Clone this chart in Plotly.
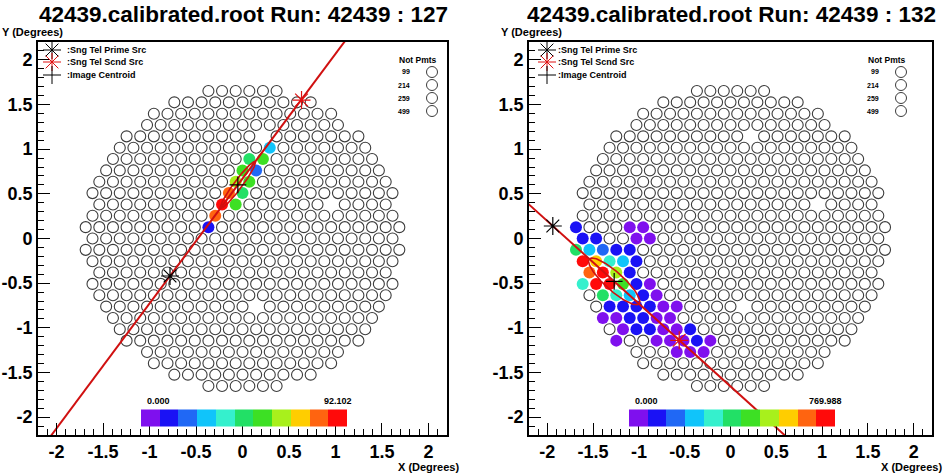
import numpy as np
import plotly.graph_objects as go

W, H = 943, 475
FONT = "Liberation Sans, Arial, Helvetica, sans-serif"

# ---------------- camera geometry ----------------
PIXEL_PITCH = 0.1467      # deg between neighbouring PMTs
CAMERA_RADIUS = 1.71      # deg, edge of the PMT cluster

# PMTs without a working channel ("Not Pmts")
not_pmt_ids = ["99", "214", "259", "499"]
dead_row = [9, 3, -6]
dead_col = [1, 6, 1]

# 11-step colour palette of the charge scale
palette = ["#7f10ee", "#1a12f5", "#2068f5", "#10c4fa", "#35f0cd",
           "#22e066", "#3de024", "#a8f01c", "#ffcd00", "#ff6410", "#ff0a0a"]

# ---------------- event 127 ----------------
ev127_title = "42439.calibrated.root Run: 42439 : 127"
ev127_row = [8, 7, 7, 6, 6, 5, 5, 4, 4, 3, 3, 2, 1]
ev127_col = [2, 0, 1, 0, 1, -1, 0, -1, 0, -2, -1, -2, -3]
ev127_pe = [29, 46, 55, 54, 21, 63, 52, 80, 47, 92.102, 54, 78, 12]
ev127_max = 92.102
ev127_centroid = [-0.05, 0.60]
ev127_prime_src = [-0.78, -0.42]
ev127_scnd_src = [0.635, 1.55]
ev127_length = 0.32
ev127_width = 0.045

# ---------------- event 132 ----------------
ev132_title = "42439.calibrated.root Run: 42439 : 132"
ev132_row = [1, 1, 1,
             0, 0, 0, 0,
             -1, -1, -1, -1, -1,
             -2, -2, -2, -2, -2,
             -3, -3, -3, -3,
             -4, -4, -4, -4, -4, -4,
             -5, -5, -5, -5, -5,
             -6, -6, -6, -6, -6, -6,
             -7, -7, -7, -7, -7, -7,
             -8, -8, -8, -8, -8, -8,
             -9, -9, -9, -9, -9, -9,
             -10, -10, -10]
ev132_col = [-12, -8, -7,
             -11, -10, -7, -6,
             -12, -11, -10, -9, -8,
             -11, -10, -9, -8, -7,
             -11, -10, -9, -8,
             -11, -10, -9, -8, -7, -6,
             -10, -9, -8, -7, -6,
             -9, -8, -7, -6, -5, -4,
             -10, -9, -8, -7, -6, -5,
             -8, -7, -6, -5, -4, -3,
             -9, -6, -5, -4, -3, -2,
             -4, -3, -2]
ev132_pe = [100, 30, 40,
            110, 80, 45, 30,
            390, 250, 180, 110, 120,
            769.988, 600, 320, 260, 115,
            680, 740, 530, 125,
            330, 750, 745, 460, 100, 50,
            380, 330, 240, 110, 40,
            100, 120, 130, 95, 45, 30,
            40, 50, 110, 120, 55, 35,
            45, 105, 115, 60, 50, 100,
            40, 50, 60, 55, 110, 40,
            45, 60, 40]
ev132_max = 769.988
ev132_centroid = [-1.27, -0.48]
ev132_prime_src = [-1.94, 0.14]
ev132_scnd_src = [-0.56, -1.14]
ev132_length = 0.37
ev132_width = 0.10

x_tick_vals = [-2, -1.5, -1, -0.5, 0, 0.5, 1, 1.5, 2]
x_tick_text = ["-2", "-1.5", "-1", "-0.5", "0", "0.5", "1", "1.5", "2"]

# ---------------- helpers ----------------
DY = PIXEL_PITCH * np.sqrt(3) / 2


def pix_xy(r, c):
    return (c + 0.5 * (r % 2)) * PIXEL_PITCH, r * DY


def camera_pixels():
    out = []
    for r in range(-15, 16):
        for c in range(-15, 16):
            x, y = pix_xy(r, c)
            if np.hypot(x, y) <= CAMERA_RADIUS:
                out.append((r, c))
    return out


def discrete_scale(colors):
    n = len(colors)
    sc = []
    for k, col in enumerate(colors):
        sc.append([k / n, col])
        sc.append([(k + 1) / n, col])
    return sc


def px2paper_x(p):
    return p / W


def px2paper_y(p):
    return 1 - p / H


# panel frames in page pixels: (left, right, top, bottom)
frames = [(38, 447, 42, 435), (529, 932, 42, 435)]

events = [
    dict(title=ev127_title, rows=ev127_row, cols=ev127_col, pe=ev127_pe, vmax=ev127_max,
         cen=ev127_centroid, src1=ev127_prime_src, src2=ev127_scnd_src,
         length=ev127_length, width=ev127_width, max_label="92.102"),
    dict(title=ev132_title, rows=ev132_row, cols=ev132_col, pe=ev132_pe, vmax=ev132_max,
         cen=ev132_centroid, src1=ev132_prime_src, src2=ev132_scnd_src,
         length=ev132_length, width=ev132_width, max_label="769.988"),
]

fig = go.Figure()
all_pix = camera_pixels()
dead = set(zip(dead_row, dead_col))
annotations = []
shapes = []


def text(s, x, y, size, anchor="center", yanchor="middle"):
    return dict(text="<b>" + s + "</b>", xref="paper", yref="paper",
                x=px2paper_x(x), y=px2paper_y(y), xanchor=anchor, yanchor=yanchor,
                showarrow=False, borderpad=0,
                font=dict(family=FONT, size=size, color="black"))


for k, ev in enumerate(events):
    xa = "x" if k == 0 else "x2"
    ya = "y" if k == 0 else "y2"
    fl, fr, ft, fb = frames[k]
    hits = set(zip(ev["rows"], ev["cols"]))

    # idle PMTs
    idle = [p for p in all_pix if p not in hits and p not in dead]
    ix, iy = zip(*[pix_xy(r, c) for r, c in idle])
    fig.add_trace(go.Scatter(
        x=ix, y=iy, mode="markers", xaxis=xa, yaxis=ya, hoverinfo="skip",
        marker=dict(symbol="circle", size=11, color="white",
                    line=dict(color="#3c3c3c", width=1.1))))

    # PMTs with signal
    hx, hy = zip(*[pix_xy(r, c) for r, c in zip(ev["rows"], ev["cols"])])
    fig.add_trace(go.Scatter(
        x=hx, y=hy, mode="markers", xaxis=xa, yaxis=ya,
        marker=dict(symbol="circle", size=12, color=ev["pe"],
                    colorscale=discrete_scale(palette), cmin=0, cmax=ev["vmax"],
                    line=dict(width=0),
                    showscale=True,
                    colorbar=dict(orientation="h", x=px2paper_x((fl + fr) / 2 + 1),
                                  xanchor="center", y=px2paper_y(417.5), yanchor="middle",
                                  len=206, lenmode="pixels", thickness=17,
                                  thicknessmode="pixels", outlinewidth=0,
                                  showticklabels=False, ticks="", xpad=0, ypad=0))))

    # major axis line through the two source candidates and the centroid
    cen = np.array(ev["cen"])
    s1 = np.array(ev["src1"])
    u = (cen - s1) / np.linalg.norm(cen - s1)
    lx = [s1[0] - 10 * u[0], s1[0] + 10 * u[0]]
    ly = [s1[1] - 10 * u[1], s1[1] + 10 * u[1]]
    fig.add_trace(go.Scatter(x=lx, y=ly, mode="lines", xaxis=xa, yaxis=ya,
                             line=dict(color="#d01010", width=2), hoverinfo="skip"))

    # Hillas ellipse
    t = np.linspace(0, 2 * np.pi, 200)
    v = np.array([-u[1], u[0]])
    ex = cen[0] + ev["length"] * np.cos(t) * u[0] + ev["width"] * np.sin(t) * v[0]
    ey = cen[1] + ev["length"] * np.cos(t) * u[1] + ev["width"] * np.sin(t) * v[1]
    fig.add_trace(go.Scatter(x=ex, y=ey, mode="lines", xaxis=xa, yaxis=ya,
                             line=dict(color="#d01010", width=1.6), hoverinfo="skip"))

    # source candidates and centroid
    fig.add_trace(go.Scatter(x=[s1[0]], y=[s1[1]], mode="markers", xaxis=xa, yaxis=ya,
                             marker=dict(symbol="asterisk-open", size=15, color="black",
                                         line=dict(color="black", width=1.2))))
    fig.add_trace(go.Scatter(x=[ev["src2"][0]], y=[ev["src2"][1]], mode="markers",
                             xaxis=xa, yaxis=ya,
                             marker=dict(symbol="asterisk-open", size=15, color="#e01010",
                                         line=dict(color="#e01010", width=1.2))))
    fig.add_trace(go.Scatter(x=[cen[0]], y=[cen[1]], mode="markers", xaxis=xa, yaxis=ya,
                             marker=dict(symbol="cross-thin-open", size=12, color="black",
                                         line=dict(color="black", width=1.2))))

    # ---- text ----
    annotations.append(text(ev["title"], (fl + fr) / 2 + 1, 0.5, 22.5, yanchor="top"))
    annotations.append(text("Y (Degrees)", fl - 37 if k == 0 else fl - 29, 31.5, 11, "left"))
    annotations.append(text("X (Degrees)", fr + 13 if k == 0 else fr + 11, 467, 11, "right"))
    bar_l = (fl + fr) / 2 + 1 - 103
    bar_r = (fl + fr) / 2 + 1 + 103
    annotations.append(text("0.000", bar_l + 18, 401, 9))
    annotations.append(text(ev["max_label"], bar_r - 9, 401, 9))

    # key for markers (top left)
    mk_x = fl + (14 if k == 0 else 18)
    txt_x = fl + 28
    key = [(":Sng Tel Prime Src", "black", "star", 50),
           (":Sng Tel Scnd Src", "#e01010", "star", 62),
           (":Image Centroid", "black", "plus", 75)]
    for label, col, kind, yy in key:
        angles = [0, 45, 90, 135] if kind == "star" else [0, 90]
        rad = 9
        for a in angles:
            dx = rad * np.cos(np.radians(a))
            dy = rad * np.sin(np.radians(a))
            shapes.append(dict(type="line", xref="paper", yref="paper",
                               x0=px2paper_x(mk_x - dx), x1=px2paper_x(mk_x + dx),
                               y0=px2paper_y(yy - dy), y1=px2paper_y(yy + dy),
                               line=dict(color=col, width=1)))
        annotations.append(text(label, txt_x, yy, 9, "left"))

    # key for channels without PMT (top right)
    np_right = 438 if k == 0 else 907
    annotations.append(text("Not Pmts", np_right, 60, 8.5, "right"))
    for n, lab in enumerate(not_pmt_ids):
        yy = 72 + 13 * n
        annotations.append(text(lab, np_right - 27, yy, 7, "right"))
        ccx = np_right - 6
        shapes.append(dict(type="circle", xref="paper", yref="paper",
                           x0=px2paper_x(ccx - 5.5), x1=px2paper_x(ccx + 5.5),
                           y0=px2paper_y(yy - 5.5), y1=px2paper_y(yy + 5.5),
                           line=dict(color="#3c3c3c", width=1)))


def axis(domain, anchor):
    return dict(domain=domain, anchor=anchor, range=[-2.2, 2.2],
                showline=True, linecolor="black", linewidth=1.6, mirror=True,
                ticks="inside", ticklen=12, tickwidth=1, tickcolor="black",
                tickmode="array", tickvals=x_tick_vals, ticktext=x_tick_text,
                tickfont=dict(family=FONT, size=18, color="black", weight="bold"),
                minor=dict(ticks="inside", ticklen=6, tickwidth=1, tickcolor="black",
                           tickmode="linear", tick0=0, dtick=0.1, showgrid=False),
                showgrid=False, zeroline=False, fixedrange=True)


ydom = [px2paper_y(frames[0][3]), px2paper_y(frames[0][2])]
fig.update_layout(
    width=W, height=H, margin=dict(l=0, r=0, t=0, b=0),
    paper_bgcolor="white", plot_bgcolor="white", showlegend=False,
    xaxis=axis([px2paper_x(frames[0][0]), px2paper_x(frames[0][1])], "y"),
    yaxis=axis(ydom, "x"),
    xaxis2=axis([px2paper_x(frames[1][0]), px2paper_x(frames[1][1])], "y2"),
    yaxis2=axis(ydom, "x2"),
    annotations=annotations, shapes=shapes,
)

fig.write_html("out.html")
